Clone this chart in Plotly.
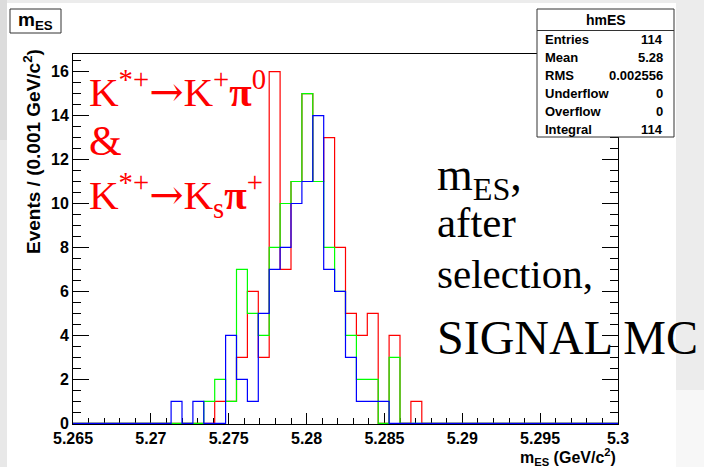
import numpy as np
import plotly.graph_objects as go

# Binning of the m_ES histograms (GeV/c^2)
X_LOW, X_HIGH, N_BINS = 5.265, 5.300, 50

# Bin contents, bin 0 ... bin 49
hmES_red = [0, 0, 0, 0, 0, 0, 0, 0, 0, 0,
            0, 0, 0, 1, 1, 3, 6, 3, 16, 7,
            11, 15, 11, 13, 8, 5, 4, 5, 0, 4,
            0, 1, 0, 0, 0, 0, 0, 0, 0, 0,
            0, 0, 0, 0, 0, 0, 0, 0, 0, 0]
hmES_green = [0, 0, 0, 0, 0, 0, 0, 0, 0, 0,
              0, 0, 1, 2, 1, 7, 5, 4, 8, 10,
              11, 15, 11, 8, 6, 4, 2, 2, 0, 3,
              0, 0, 0, 0, 0, 0, 0, 0, 0, 0,
              0, 0, 0, 0, 0, 0, 0, 0, 0, 0]
hmES_blue = [0, 0, 0, 0, 0, 0, 0, 0, 0, 1,
             0, 1, 0, 0, 4, 2, 1, 5, 7, 8,
             10, 11, 14, 7, 6, 3, 1, 1, 1, 0,
             0, 0, 0, 0, 0, 0, 0, 0, 0, 0,
             0, 0, 0, 0, 0, 0, 0, 0, 0, 0]

x_tick_vals = [5.265, 5.27, 5.275, 5.28, 5.285, 5.29, 5.295, 5.3]
x_tick_text = ["5.265", "5.27", "5.275", "5.28", "5.285", "5.29", "5.295", "5.3"]
y_tick_vals = [0, 2, 4, 6, 8, 10, 12, 14, 16]
y_tick_text = ["0", "2", "4", "6", "8", "10", "12", "14", "16"]

stats_labels = ["Entries", "Mean", "RMS", "Underflow", "Overflow", "Integral"]
stats_values = ["114", "5.28", "0.002556", "0", "0", "114"]

# ---- canvas geometry (pixels) ----
W, H = 704, 467
PL, PR, PT, PB = 73, 618, 54, 424
Y_MAX = 16.8


def px(x):
    return (x - PL) / (PR - PL)


def py(y):
    return (PB - y) / (PB - PT)


edges = np.linspace(X_LOW, X_HIGH, N_BINS + 1)

fig = go.Figure()
for counts, color in [(hmES_red, "#ff0000"), (hmES_green, "#00ff00"), (hmES_blue, "#0000ff")]:
    fig.add_trace(go.Scatter(
        x=edges, y=list(counts) + [counts[-1]],
        mode="lines", line=dict(color=color, width=1.2, shape="hv"),
        hoverinfo="skip", showlegend=False,
    ))

SANS = "Liberation Sans, Arial, Helvetica, sans-serif"
SERIF = "Liberation Serif, Times New Roman, serif"
axis_font = dict(family=SANS, size=16, color="black", weight="bold")

fig.update_layout(
    xaxis=dict(
        range=[X_LOW, X_HIGH], tickmode="array", tickvals=x_tick_vals, ticktext=x_tick_text,
        ticks="inside", ticklen=11, tickwidth=1, tickcolor="black",
        minor=dict(tickmode="linear", tick0=X_LOW, dtick=0.001, ticks="inside",
                   ticklen=6, tickcolor="black", showgrid=False),
        showline=True, linecolor="black", linewidth=1, mirror=True,
        showgrid=False, zeroline=False, tickfont=axis_font, layer="below traces",
    ),
    # upper frame edge carries the major ticks only
    xaxis2=dict(
        overlaying="x", matches="x", side="top", anchor="y",
        tickmode="array", tickvals=x_tick_vals, showticklabels=False,
        ticks="inside", ticklen=11, tickwidth=1, tickcolor="black",
        showline=False, showgrid=False, zeroline=False,
    ),
    yaxis=dict(
        range=[-0.03, Y_MAX], tickmode="array", tickvals=y_tick_vals, ticktext=y_tick_text,
        ticks="inside", ticklen=16, tickwidth=1, tickcolor="black",
        minor=dict(tickmode="linear", tick0=0, dtick=0.5, ticks="inside",
                   ticklen=8, tickcolor="black", showgrid=False),
        showline=True, linecolor="black", linewidth=1, mirror="ticks",
        showgrid=False, zeroline=False, tickfont=axis_font, layer="below traces",
    ),
)

shapes = []
# slide background around the canvas
shapes.append(dict(type="rect", xref="paper", yref="paper", layer="below",
                   x0=px(7), x1=px(676), y0=py(3), y1=py(H),
                   fillcolor="white", line=dict(width=0)))
shapes.append(dict(type="rect", xref="paper", yref="paper", layer="below",
                   x0=px(676), x1=px(W), y0=py(390), y1=py(H),
                   fillcolor="#f7f7f7", line=dict(width=0)))
shapes.append(dict(type="rect", xref="paper", yref="paper", layer="below",
                   x0=px(0), x1=px(7), y0=py(0), y1=py(140),
                   fillcolor="#dcdcdc", line=dict(width=0)))
shapes.append(dict(type="rect", xref="paper", yref="paper", layer="below",
                   x0=px(0), x1=px(7), y0=py(140), y1=py(H),
                   fillcolor="#e8e8e8", line=dict(width=0)))
# histogram title box
shapes.append(dict(type="rect", xref="paper", yref="paper",
                   x0=px(10), x1=px(61), y0=py(33), y1=py(9),
                   fillcolor="white", line=dict(color="#333333", width=1)))
# statistics box
shapes.append(dict(type="rect", xref="paper", yref="paper",
                   x0=px(537), x1=px(674), y0=py(137), y1=py(9),
                   fillcolor="white", line=dict(color="#333333", width=1)))
shapes.append(dict(type="line", xref="paper", yref="paper",
                   x0=px(537), x1=px(674), y0=py(30.5), y1=py(30.5),
                   line=dict(color="#333333", width=1)))

annotations = []


def ann(text, x, y, size, family=SANS, color="black", xanchor="center",
        yanchor="middle", bold=False, angle=0):
    annotations.append(dict(
        text=text, xref="paper", yref="paper", x=px(x), y=py(y),
        xanchor=xanchor, yanchor=yanchor, showarrow=False, textangle=angle,
        font=dict(family=family, size=size, color=color,
                  weight="bold" if bold else "normal"),
    ))


# histogram title and axis titles
ann("m<sub>ES</sub>", 35.5, 21, 19, bold=True)
ann("m<sub>ES</sub> (GeV/c<sup>2</sup>)", 618, 457, 16, xanchor="right", bold=True)
ann("Events / (0.001 GeV/c<sup>2</sup>)", 32, 152, 19, bold=True, angle=-90)

# statistics box contents
ann("hmES", 605.5, 20, 14, bold=True)
for i, (lab, val) in enumerate(zip(stats_labels, stats_values)):
    yy = 39.5 + 18 * i
    ann(lab, 543, yy, 13, xanchor="left", bold=True)
    ann(val, 665, yy, 13, xanchor="right", bold=True)

# decay channels
RED = "#ff0000"
ARROW = '<span style="font-family:DejaVu Serif">→</span>'
ann("K<sup>*+</sup>" + ARROW + "K<sup>+</sup><b>π</b><sup>0</sup>", 87, 89, 41,
    family=SERIF, color=RED, xanchor="left")
ann("&amp;", 87, 141, 42, family=SERIF, color=RED, xanchor="left")
ann("K<sup>*+</sup>" + ARROW + "K<sub>s</sub><b>π</b><sup>+</sup>", 87, 195, 41,
    family=SERIF, color=RED, xanchor="left")

# sample description
ann("m<sub>ES</sub>,", 435, 178, 46, family=SERIF, xanchor="left")
ann("after", 435, 222, 43, family=SERIF, xanchor="left")
ann("selection,", 435, 274, 41, family=SERIF, xanchor="left")
ann("SIGNAL MC", 435, 337, 48, family=SERIF, xanchor="left")

fig.update_layout(
    width=W, height=H, autosize=False,
    margin=dict(l=PL, r=W - PR, t=PT, b=H - PB, pad=0),
    paper_bgcolor="#ececec", plot_bgcolor="white",
    shapes=shapes, annotations=annotations, showlegend=False,
)

fig.write_html("out.html")
